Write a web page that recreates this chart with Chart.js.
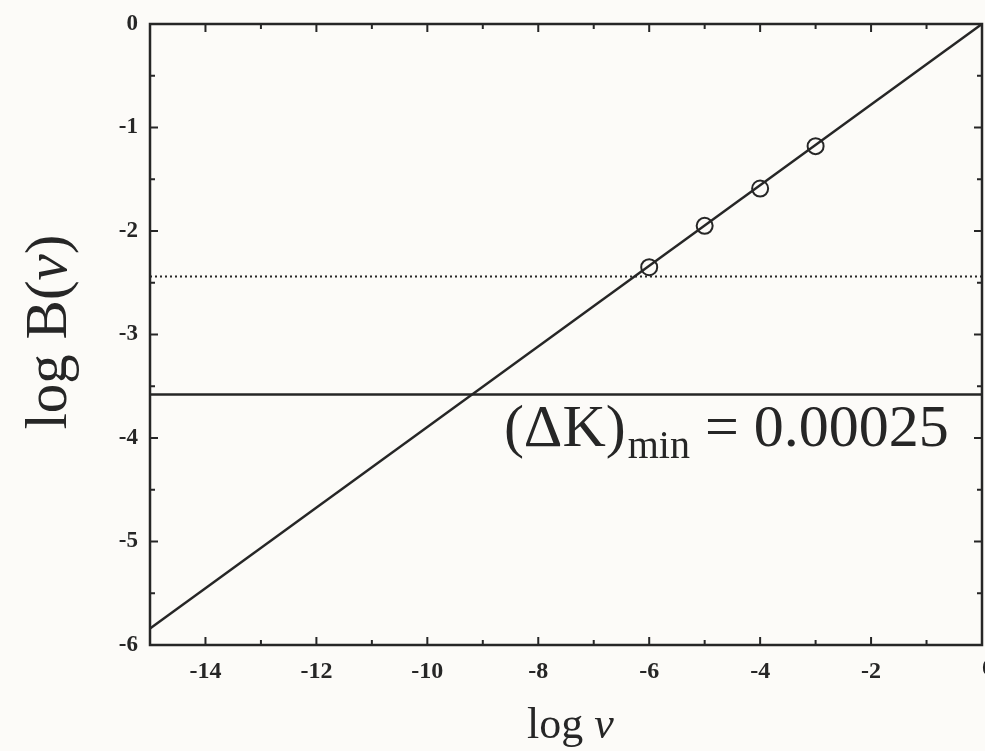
<!DOCTYPE html>
<html>
<head>
<meta charset="utf-8">
<script src="https://cdn.jsdelivr.net/npm/chart.js@4/dist/chart.umd.min.js"></script>
<style>
  html, body { margin: 0; padding: 0; background: #fcfbf8; }
  #wrap { width: 985px; height: 751px; }
</style>
</head>
<body>
<div id="wrap"><canvas id="chart" width="985" height="751"></canvas></div>
<script>
// values
var fitX = [-15, 0];
var fitY = [-5.84, 0];
var ptX = [-6, -5, -4, -3];
var ptY = [-2.35, -1.95, -1.59, -1.18];
var dottedLevel = -2.44;
var solidLevel = -3.58;
var xTickLabels = [-14, -12, -10, -8, -6, -4, -2, 0];
var yTickLabels = [0, -1, -2, -3, -4, -5, -6];

var ink = '#262626';
var serif = '"Liberation Serif", "DejaVu Serif", serif';

function toPoints(xs, ys) {
  return xs.map(function (x, i) { return { x: x, y: ys[i] }; });
}

// inward ticks, full frame, titles and the annotation
var framePlugin = {
  id: 'frame',
  beforeDraw: function (chart) {
    var c = chart.ctx;
    c.save();
    c.fillStyle = '#fcfbf8';
    c.fillRect(0, 0, chart.width, chart.height);
    c.restore();
  },
  afterDraw: function (chart) {
    var c = chart.ctx, a = chart.chartArea;
    var xs = chart.scales.x, ys = chart.scales.y;
    c.save();
    c.strokeStyle = ink;
    c.lineWidth = 2.5;
    c.strokeRect(a.left, a.top, a.right - a.left, a.bottom - a.top);

    c.lineWidth = 2;
    xs.ticks.forEach(function (t) {
      var px = xs.getPixelForValue(t.value);
      var len = (t.value % 2 === 0) ? 8 : 5;
      c.beginPath();
      c.moveTo(px, a.bottom); c.lineTo(px, a.bottom - len);
      c.moveTo(px, a.top); c.lineTo(px, a.top + len);
      c.stroke();
    });
    ys.ticks.forEach(function (t) {
      var py = ys.getPixelForValue(t.value);
      var len = Number.isInteger(t.value) ? 8 : 5;
      c.beginPath();
      c.moveTo(a.left, py); c.lineTo(a.left + len, py);
      c.moveTo(a.right, py); c.lineTo(a.right - len, py);
      c.stroke();
    });

    c.fillStyle = ink;
    // last x tick label, clipped by the page edge as in the scan
    c.font = 'bold 24px ' + serif;
    c.textAlign = 'center';
    c.textBaseline = 'top';
    c.fillText('0', xs.getPixelForValue(0) + 6, a.bottom + 12);

    // axis titles
    c.textBaseline = 'middle';
    c.font = '59px ' + serif;
    c.save();
    c.translate(50, 333);
    c.rotate(-Math.PI / 2);
    c.fillText('log B(', -22, 0);
    var wb = c.measureText('log B(').width;
    c.textAlign = 'left';
    c.font = 'italic 59px ' + serif;
    c.fillText('\u03BD', -22 + wb / 2, 0);
    var wn = c.measureText('\u03BD').width;
    c.font = '59px ' + serif;
    c.fillText(')', -22 + wb / 2 + wn, 0);
    c.restore();

    c.textAlign = 'left';
    c.textBaseline = 'alphabetic';
    c.font = '44px ' + serif;
    c.fillText('log ', 527, 738);
    var wl = c.measureText('log ').width;
    c.font = 'italic 44px ' + serif;
    c.fillText('\u03BD', 527 + wl, 738);

    // annotation
    var tx = xs.getPixelForValue(-8.62);
    var ty = ys.getPixelForValue(-4.08);
    c.font = '60px ' + serif;
    var s1 = '(\u0394K)';
    c.fillText(s1, tx, ty);
    var w1 = c.measureText(s1).width;
    c.font = '40px ' + serif;
    c.fillText('min', tx + w1 + 2, ty + 12);
    var w2 = c.measureText('min').width;
    c.font = '60px ' + serif;
    c.fillText(' = 0.00025', tx + w1 + w2 + 2, ty);
    c.restore();
  }
};

new Chart(document.getElementById('chart'), {
  type: 'scatter',
  data: {
    datasets: [
      {
        data: toPoints(fitX, fitY),
        showLine: true,
        borderColor: ink,
        borderWidth: 2.5,
        pointRadius: 0
      },
      {
        data: toPoints(fitX, [dottedLevel, dottedLevel]),
        showLine: true,
        borderColor: ink,
        borderWidth: 2,
        borderDash: [2, 3],
        pointRadius: 0
      },
      {
        data: toPoints(fitX, [solidLevel, solidLevel]),
        showLine: true,
        borderColor: ink,
        borderWidth: 2.5,
        pointRadius: 0
      },
      {
        data: toPoints(ptX, ptY),
        showLine: false,
        pointRadius: 8,
        pointBorderWidth: 2,
        pointBorderColor: ink,
        pointBackgroundColor: 'rgba(0,0,0,0)'
      }
    ]
  },
  options: {
    responsive: false,
    animation: false,
    events: [],
    layout: { autoPadding: false, padding: { top: 24, right: 3, left: 0, bottom: 0 } },
    plugins: { legend: { display: false }, tooltip: { enabled: false } },
    scales: {
      x: {
        type: 'linear', min: -15, max: 0,
        grid: { display: true, drawOnChartArea: false, drawTicks: true, tickLength: 12, color: 'rgba(0,0,0,0)' },
        border: { display: false },
        ticks: {
          stepSize: 1, padding: 0, color: ink, autoSkip: false, maxRotation: 0,
          font: { family: serif, size: 24, weight: 'bold' },
          callback: function (v) { return (v !== 0 && xTickLabels.indexOf(v) >= 0) ? String(v) : ''; }
        },
        afterFit: function (s) { s.height = 106; }
      },
      y: {
        type: 'linear', min: -6, max: 0,
        grid: { display: true, drawOnChartArea: false, drawTicks: true, tickLength: 12, color: 'rgba(0,0,0,0)' },
        border: { display: false },
        ticks: {
          stepSize: 0.5, padding: 0, color: ink, autoSkip: false,
          font: { family: serif, size: 23, weight: 'bold' },
          callback: function (v) { return yTickLabels.indexOf(v) >= 0 ? String(v) : ''; }
        },
        afterFit: function (s) { s.width = 150; }
      }
    }
  },
  plugins: [framePlugin]
});
</script>
</body>
</html>
